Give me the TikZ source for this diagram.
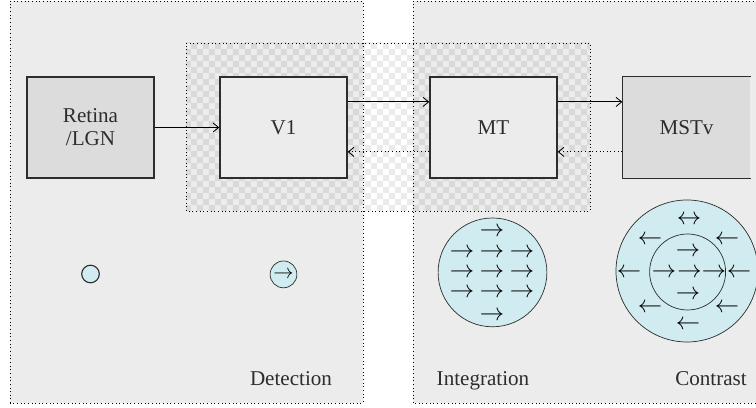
\documentclass[tikz,border=0pt]{standalone}
\usepackage{fontspec}
\setmainfont{Liberation Serif}
\usepackage{amsmath}
\usepackage{tikz}
\usetikzlibrary{arrows.meta,patterns.meta}

\definecolor{panelgray}{RGB}{236,236,236}
\definecolor{boxgray}{RGB}{220,220,220}
\definecolor{cellblue}{RGB}{208,236,240}
\definecolor{inkgray}{RGB}{45,45,45}

\tikzdeclarepattern{
	name=checks,
	type=uncolored,
	bottom left={(0pt,0pt)},
	top right={(8.5pt,8.5pt)},
	tile size={(8.5pt,8.5pt)},
	code={
		\pgfpathrectangle{\pgfpointorigin}{\pgfqpoint{4.25pt}{4.25pt}}
		\pgfpathrectangle{\pgfqpoint{4.25pt}{4.25pt}}{\pgfqpoint{4.25pt}{4.25pt}}
		\pgfusepath{fill}
	}
}

\begin{document}
\begin{tikzpicture}[font=\fontsize{15}{16.5}\selectfont,
                    glyph/.style={inner sep=0pt,font=\fontsize{17}{17}\selectfont}]
	\clip (0,0) rectangle (18.9,10.2);
	\fill[white] (0,0) rectangle (18.9,10.2);
	
	% panels and the shared checkered area
	\fill[panelgray] (0.25,0.125) rectangle (9.075,10.175);
	\fill[panelgray] (10.325,0.125) rectangle (19.5,10.175);
	\fill[pattern=checks, pattern color=black, fill opacity=0.08] (4.65,4.925) rectangle (14.75,9.125);
	\begin{scope}[line width=0.6pt, dotted]
	    \draw (0.25,0.125) rectangle (9.075,10.175);
	    \draw (10.325,0.125) rectangle (19.5,10.175);
	    \draw (4.65,4.925) rectangle (14.75,9.125);
	\end{scope}
	
	\begin{scope}[every node/.style={rectangle,draw=inkgray,line width=1pt,inner sep=0pt,
	              minimum width=3.175cm,minimum height=2.525cm,align=center,text=inkgray}]
	    \node[fill=boxgray] (retina) at (2.2625,7.0125) {Retina\\/LGN};
	    \node[fill=panelgray] (v1) at (7.0875,7.0125) {V1};
	    \node[fill=panelgray] (mt) at (12.3375,7.0125) {MT};
	    \node[fill=boxgray,draw=none] (mstv) at (17.1625,7.0125) {MSTv};
	\end{scope}
	\draw[inkgray,line width=1pt] (mstv.north east) -- (mstv.north west) -- (mstv.south west) -- (mstv.south east);
	
	\begin{scope}[>={Straight Barb[length=4pt,width=6.5pt]},
	              every edge/.style={draw=black,line width=0.6pt}]
	    \path (retina) edge[->] (v1);
	    \path ([yshift=0.64cm]v1.east) edge[->] ([yshift=0.64cm]mt.west);
	    \path ([yshift=0.64cm]mt.east) edge[->] ([yshift=0.64cm]mstv.west);
	    \path ([yshift=-0.61cm]mt.west) edge[->,dotted] ([yshift=-0.61cm]v1.east);
	    \path ([yshift=-0.61cm]mstv.west) edge[->,dotted] ([yshift=-0.61cm]mt.east);
	\end{scope}
	
	% receptive fields
	\begin{scope}[every node/.style={circle,draw=inkgray,fill=cellblue,inner sep=0pt,line width=0.5pt}]
	    \node[minimum size=0.44cm,line width=0.8pt] (spot) at (2.2625,3.35) {};
	    \node[minimum size=0.67cm,font=\fontsize{14}{14}\selectfont] (dir) at (7.0875,3.34) {$\rightarrow$};
	    \node[minimum size=2.72cm] (pool) at (12.3125,3.39) {};
	    \node[minimum size=3.55cm] (surround) at (17.175,3.425) {};
	    \node[minimum size=1.9cm] (centre) at (17.19,3.4) {};
	\end{scope}
	
	\foreach \i in {-1,0,1}
	    \foreach \j in {-1,0,1}
	        \node[glyph] (p\i\j) at ({12.3+0.75*\i},{3.375+0.51*\j}) {$\rightarrow$};
	\node[glyph] (ptop) at (12.3,4.4) {$\rightarrow$};
	\node[glyph] (pbot) at (12.3,2.3) {$\rightarrow$};
	
	\node[glyph] (s1) at (17.225,4.7) {$\leftrightarrow$};
	\node[glyph] (s2) at (16.25,4.2) {$\leftarrow$};
	\node[glyph] (s3) at (18.175,4.2) {$\leftarrow$};
	\node[glyph] (c1) at (17.2,3.9) {$\rightarrow$};
	\node[glyph] (s4) at (15.725,3.375) {$\leftarrow$};
	\node[glyph] (c2) at (16.6,3.375) {$\rightarrow$};
	\node[glyph] (c3) at (17.24,3.375) {$\rightarrow$};
	\node[glyph] (c4) at (17.85,3.375) {$\rightarrow$};
	\node[glyph] (s5) at (18.475,3.375) {$\leftarrow$};
	\node[glyph] (c5) at (17.2,2.825) {$\rightarrow$};
	\node[glyph] (s6) at (16.25,2.5) {$\leftarrow$};
	\node[glyph] (s7) at (18.175,2.5) {$\leftarrow$};
	\node[glyph] (s8) at (17.2,2.075) {$\leftarrow$};
	
	\begin{scope}[every node/.style={anchor=base,text=inkgray}]
	    \node (detect) at (7.275,0.55) {Detection};
	    \node (integ) at (12.075,0.55) {Integration};
	    \node (contrast) at (17.775,0.55) {Contrast};
	\end{scope}
\end{tikzpicture}
\end{document}
